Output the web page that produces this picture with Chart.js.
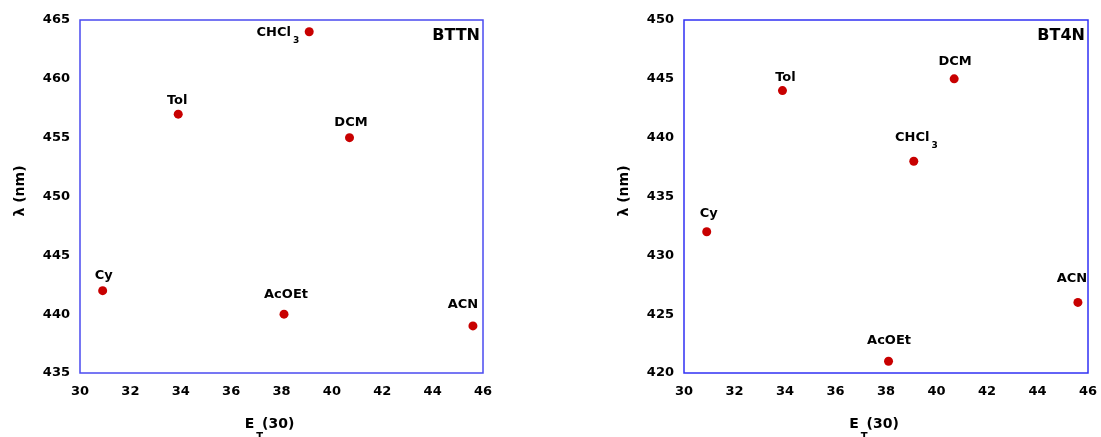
<!DOCTYPE html>
<html>
<head>
<meta charset="utf-8">
<script src="https://cdn.jsdelivr.net/npm/chart.js@4/dist/chart.umd.min.js"></script>
<style>
  html, body { margin: 0; padding: 0; background: #fff; width: 1101px; height: 437px; overflow: hidden; }
  .panel { position: absolute; top: 0; height: 437px; }
  #left { left: 0; width: 560px; }
  #right { left: 604px; width: 506px; }
</style>
</head>
<body>
<div class="panel" id="left"><canvas id="chartBTTN"></canvas></div>
<div class="panel" id="right"><canvas id="chartBT4N"></canvas></div>
<script>
// Solvents and their ET(30) polarity values
const solvents = ['Cy', 'Tol', 'AcOEt', 'CHCl3', 'DCM', 'ACN'];
const et30 = [30.9, 33.9, 38.1, 39.1, 40.7, 45.6];

// Emission maxima (nm) per solvent
const lambdaBTTN = [442, 457, 440, 464, 455, 439];
const lambdaBT4N = [432, 444, 421, 438, 445, 426];

// Axis ranges: [min, max, step]
const xTicks = [30, 46, 2];
const yTicksBTTN = [435, 465, 5];
const yTicksBT4N = [420, 450, 5];

// Where each solvent name sits relative to its marker
const labelPlaceBTTN = [
  { dx: 1, dy: -16 }, { dx: -1, dy: -15 }, { dx: 2, dy: -21 },
  { dx: -10, dy: 0, align: 'right' }, { dx: 1.5, dy: -16 }, { dx: -10, dy: -23 }
];
const labelPlaceBT4N = [
  { dx: 2, dy: -20 }, { dx: 3, dy: -14.5 }, { dx: 0.5, dy: -22 },
  { dx: -1.5, dy: -25 }, { dx: 1, dy: -19 }, { dx: -6, dy: -25 }
];

const FONT = "'DejaVu Sans'";

function splitSub(s) {
  const m = s.match(/^(.*?)(\d+)$/);
  return m ? [m[1], m[2]] : [s, ''];
}

const decorPlugin = {
  id: 'decor',
  afterDatasetsDraw(chart, args, opts) {
    const { ctx, chartArea: a } = chart;
    ctx.save();

    // plot frame
    ctx.strokeStyle = opts.frameColor;
    ctx.lineWidth = 1.5;
    ctx.strokeRect(a.left, a.top, a.right - a.left, a.bottom - a.top);

    // solvent labels
    ctx.fillStyle = '#000';
    ctx.textAlign = 'left';
    ctx.textBaseline = 'alphabetic';
    const meta = chart.getDatasetMeta(0);
    meta.data.forEach((pt, i) => {
      const [main, sub] = splitSub(opts.names[i]);
      const p = opts.placement[i];
      ctx.font = `bold 13px ${FONT}`;
      const wMain = ctx.measureText(main).width;
      ctx.font = `bold 9px ${FONT}`;
      const wSub = sub ? ctx.measureText(sub).width + 2 : 0;
      const xMain = p.align === 'right'
        ? pt.x + p.dx - wSub - wMain
        : pt.x + p.dx - wMain / 2;
      const base = pt.y + p.dy + 4.7;
      ctx.font = `bold 13px ${FONT}`;
      ctx.fillText(main, xMain, base);
      if (sub) {
        ctx.font = `bold 9px ${FONT}`;
        ctx.fillText(sub, xMain + wMain + 2, base + 7);
      }
    });

    // compound name
    ctx.font = `bold 16px ${FONT}`;
    ctx.textAlign = 'right';
    ctx.fillText(opts.name, a.right - 3, a.top + 20);

    // y axis title
    ctx.save();
    ctx.translate(a.left - 60, (a.top + a.bottom) / 2 - 5.5);
    ctx.rotate(-Math.PI / 2);
    ctx.textAlign = 'center';
    ctx.textBaseline = 'middle';
    ctx.font = `bold 14px ${FONT}`;
    ctx.fillText('\u03BB (nm)', 0, 0);
    ctx.restore();

    // x axis title: E_T(30)
    ctx.textAlign = 'left';
    ctx.font = `bold 14px ${FONT}`;
    const wE = ctx.measureText('E').width;
    const wP = ctx.measureText('(30)').width;
    ctx.font = `bold 10px ${FONT}`;
    const wT = ctx.measureText('T').width;
    const total = wE + 2 + wT - 1 + wP;
    const cx = (a.left + a.right) / 2 - 12;
    const xE = cx - total / 2;
    const baseX = a.bottom + 55;
    ctx.font = `bold 14px ${FONT}`;
    ctx.fillText('E', xE, baseX);
    ctx.fillText('(30)', xE + wE + 2 + wT - 1, baseX);
    ctx.font = `bold 10px ${FONT}`;
    ctx.fillText('T', xE + wE + 2, baseX + 12);

    ctx.restore();
  }
};

function makeChart(id, yVals, yRange, name, placement, padRight, frameColor) {
  const tickFont = { family: 'DejaVu Sans', weight: 'bold', size: 13 };
  return new Chart(document.getElementById(id), {
    type: 'scatter',
    data: {
      datasets: [{
        data: et30.map((x, i) => ({ x: x, y: yVals[i] })),
        backgroundColor: '#c80000',
        borderWidth: 0,
        pointRadius: 4.5,
        pointHoverRadius: 4.5
      }]
    },
    options: {
      responsive: true,
      maintainAspectRatio: false,
      animation: false,
      events: [],
      layout: { padding: { top: 20, right: padRight, left: 0, bottom: 0 } },
      plugins: {
        legend: { display: false },
        tooltip: { enabled: false },
        decor: { names: solvents, placement: placement, name: name, frameColor: frameColor }
      },
      scales: {
        x: {
          type: 'linear',
          min: xTicks[0], max: xTicks[1],
          grid: { display: false, drawTicks: false },
          border: { display: false },
          ticks: { stepSize: xTicks[2], padding: 11, color: '#000', font: tickFont },
          afterFit(s) { s.height = 64; }
        },
        y: {
          type: 'linear',
          min: yRange[0], max: yRange[1],
          grid: { display: false, drawTicks: false },
          border: { display: false },
          ticks: { stepSize: yRange[2], padding: 10, color: '#000', font: tickFont },
          afterFit(s) { s.width = 80; }
        }
      }
    },
    plugins: [decorPlugin]
  });
}

makeChart('chartBTTN', lambdaBTTN, yTicksBTTN, 'BTTN', labelPlaceBTTN, 77, '#4a4af0');
makeChart('chartBT4N', lambdaBT4N, yTicksBT4N, 'BT4N', labelPlaceBT4N, 22, '#3030f4');
</script>
</body>
</html>
